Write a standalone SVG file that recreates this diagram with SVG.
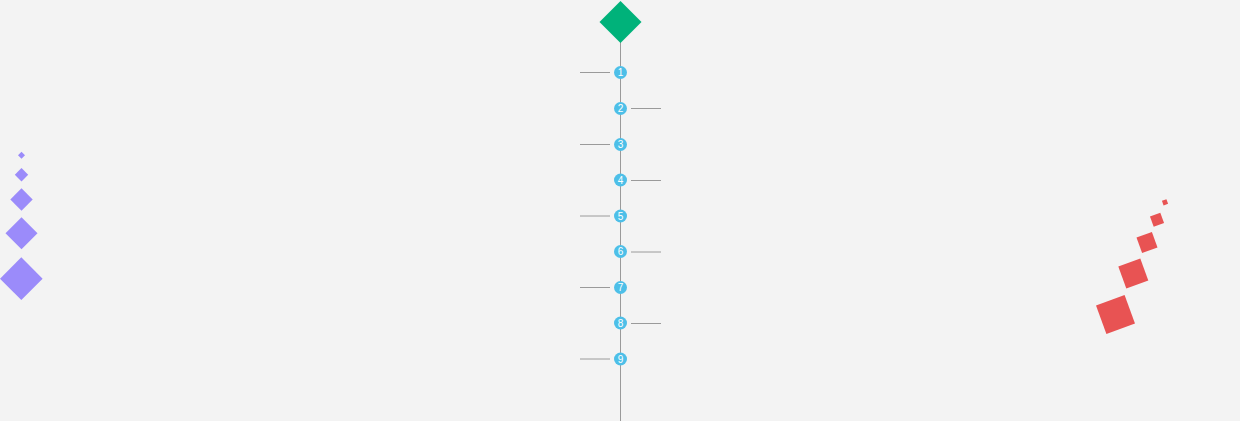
<svg xmlns="http://www.w3.org/2000/svg" width="1240" height="421" viewBox="0 0 1240 421">
<style>
.tick{stroke:#9a9a9a;stroke-width:1}
.dot{fill:#4dbfe8}
.num{fill:#ffffff;font-family:"Liberation Sans",Arial,sans-serif;font-size:10px;text-anchor:middle}
.purple{fill:#9b8bfa}
.red{fill:#e85353}
</style>
<rect x="0" y="0" width="1240" height="421" fill="#f3f3f3"/>
<g id="connectors">
<line class="tick" x1="620.5" y1="40" x2="620.5" y2="421"/>
<line class="tick" x1="580" y1="72.5" x2="610" y2="72.5"/>
<line class="tick" x1="631" y1="108.5" x2="661" y2="108.5"/>
<line class="tick" x1="580" y1="144.5" x2="610" y2="144.5"/>
<line class="tick" x1="631" y1="180.5" x2="661" y2="180.5"/>
<line class="tick" x1="580" y1="216" x2="610" y2="216"/>
<line class="tick" x1="631" y1="252" x2="661" y2="252"/>
<line class="tick" x1="580" y1="287.5" x2="610" y2="287.5"/>
<line class="tick" x1="631" y1="323.5" x2="661" y2="323.5"/>
<line class="tick" x1="580" y1="359" x2="610" y2="359"/>
</g>
<g id="top-diamond"><polygon points="620.5,1 641.5,22 620.5,43 599.5,22" fill="#00b27a"/></g>
<g id="step-1"><circle class="dot" cx="620.5" cy="72.5" r="6.5"/><text class="num" x="620.5" y="76">1</text></g>
<g id="step-2"><circle class="dot" cx="620.5" cy="108.5" r="6.5"/><text class="num" x="620.5" y="112">2</text></g>
<g id="step-3"><circle class="dot" cx="620.5" cy="144.5" r="6.5"/><text class="num" x="620.5" y="148">3</text></g>
<g id="step-4"><circle class="dot" cx="620.5" cy="180" r="6.5"/><text class="num" x="620.5" y="183.5">4</text></g>
<g id="step-5"><circle class="dot" cx="620.5" cy="216" r="6.5"/><text class="num" x="620.5" y="219.5">5</text></g>
<g id="step-6"><circle class="dot" cx="620.5" cy="251.5" r="6.5"/><text class="num" x="620.5" y="255">6</text></g>
<g id="step-7"><circle class="dot" cx="620.5" cy="287.5" r="6.5"/><text class="num" x="620.5" y="291">7</text></g>
<g id="step-8"><circle class="dot" cx="620.5" cy="323" r="6.5"/><text class="num" x="620.5" y="326.5">8</text></g>
<g id="step-9"><circle class="dot" cx="620.5" cy="359" r="6.5"/><text class="num" x="620.5" y="362.5">9</text></g>
<g id="purple-diamonds">
<polygon class="purple" points="21.5,151.8 25,155.3 21.5,158.8 18,155.3"/>
<polygon class="purple" points="21.5,168 28.2,174.7 21.5,181.4 14.8,174.7"/>
<polygon class="purple" points="21.5,188.3 32.7,199.5 21.5,210.7 10.3,199.5"/>
<polygon class="purple" points="21.5,217.3 37.5,233.3 21.5,249.3 5.5,233.3"/>
<polygon class="purple" points="21.3,257.3 42.6,278.7 21.3,300 0,278.7"/>
</g>
<g id="red-squares">
<rect class="red" x="-2.4" y="-2.4" width="4.8" height="4.8" transform="translate(1165,202.3) rotate(-20)"/>
<rect class="red" x="-5.5" y="-5.5" width="11" height="11" transform="translate(1157,219.7) rotate(-20)"/>
<rect class="red" x="-8.2" y="-8.2" width="16.4" height="16.4" transform="translate(1147,242.5) rotate(-20)"/>
<rect class="red" x="-11.7" y="-11.7" width="23.4" height="23.4" transform="translate(1133.3,273.5) rotate(-20)"/>
<rect class="red" x="-15.2" y="-15.2" width="30.4" height="30.4" transform="translate(1115.5,314.5) rotate(-20)"/>
</g>
</svg>
